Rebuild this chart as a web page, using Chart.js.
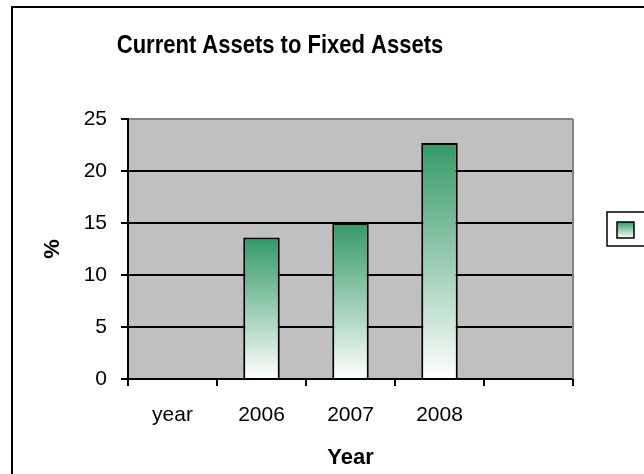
<!DOCTYPE html>
<html>
<head>
<meta charset="utf-8">
<script src="https://cdn.jsdelivr.net/npm/chart.js@4.4.1/dist/chart.umd.min.js"></script>
<style>
  html, body { margin: 0; padding: 0; background: #fff; }
  #wrap { width: 644px; height: 474px; position: relative; }
</style>
</head>
<body>
<div id="wrap"><canvas id="ratioChart"></canvas></div>
<script>
const categories = ['year', '2006', '2007', '2008', ''];
const ratioValues = [null, 13.6, 15.0, 22.7, null];
const yTicks = [0, 5, 10, 15, 20, 25];

const chartTitle = 'Current Assets to Fixed Assets';
const xTitle = 'Year';
const yTitle = '%';

const FONT = "'Liberation Sans', Arial, sans-serif";
const GREEN = 'rgb(51,153,102)';

// each bar fades from green at its top to white at the baseline
function barGradient(context) {
  const chart = context.chart;
  const { ctx, chartArea, scales } = chart;
  if (!chartArea) return GREEN;
  const v = context.raw;
  if (v == null) return GREEN;
  const top = scales.y.getPixelForValue(v);
  const base = scales.y.getPixelForValue(0);
  const g = ctx.createLinearGradient(0, top, 0, base);
  g.addColorStop(0, GREEN);
  g.addColorStop(1, '#ffffff');
  return g;
}

const frame = {
  id: 'frame',
  beforeDraw(chart) {
    const { ctx, chartArea: a } = chart;
    ctx.save();
    ctx.fillStyle = '#fff';
    ctx.fillRect(0, 0, chart.width, chart.height);
    ctx.fillStyle = '#c0c0c0';
    ctx.fillRect(a.left, a.top, a.right - a.left, a.bottom - a.top);
    ctx.restore();
  },
  afterDraw(chart) {
    const { ctx, chartArea: a } = chart;
    ctx.save();
    // outer chart border
    ctx.strokeStyle = '#000';
    ctx.lineWidth = 2;
    ctx.beginPath();
    ctx.moveTo(12, chart.height);
    ctx.lineTo(12, 7);
    ctx.lineTo(chart.width, 7);
    ctx.stroke();

    // plot area right edge
    ctx.strokeStyle = '#808080';
    ctx.lineWidth = 2;
    ctx.beginPath();
    ctx.moveTo(a.right, a.top);
    ctx.lineTo(a.right, a.bottom);
    ctx.stroke();

    // title, a little narrower than the plain bold face
    ctx.save();
    ctx.translate(280, 46);
    ctx.scale(0.88, 1);
    ctx.fillStyle = '#000';
    ctx.font = 'bold 25px ' + FONT;
    ctx.textAlign = 'center';
    ctx.textBaseline = 'middle';
    ctx.fillText(chartTitle, 0, 0);
    ctx.restore();

    // legend box with a single swatch
    ctx.strokeStyle = '#000';
    ctx.lineWidth = 1.5;
    ctx.strokeRect(607, 212, 60, 34);
    const g = ctx.createLinearGradient(0, 222, 0, 238);
    g.addColorStop(0, GREEN);
    g.addColorStop(1, '#ffffff');
    ctx.fillStyle = g;
    ctx.fillRect(617, 222, 17, 16);
    ctx.strokeRect(617, 222, 17, 16);
    ctx.restore();
  }
};

new Chart(document.getElementById('ratioChart'), {
  type: 'bar',
  data: {
    labels: categories,
    datasets: [{
      label: '',
      data: ratioValues,
      backgroundColor: barGradient,
      borderColor: '#000',
      borderWidth: 2,
      borderSkipped: 'start',
      categoryPercentage: 1,
      barPercentage: 0.41
    }]
  },
  options: {
    responsive: true,
    maintainAspectRatio: false,
    animation: false,
    events: [],
    layout: { padding: { top: 119, right: 71, left: 0, bottom: 0 } },
    plugins: {
      legend: { display: false },
      title: { display: false },
      tooltip: { enabled: false }
    },
    scales: {
      x: {
        offset: true,
        grid: {
          offset: true,
          drawOnChartArea: false,
          drawTicks: true,
          tickLength: 7,
          tickColor: '#000',
          lineWidth: 2
        },
        border: { color: '#000', width: 2 },
        ticks: {
          color: '#000',
          padding: 17,
          maxRotation: 0,
          font: { family: FONT, size: 21 }
        },
        title: {
          display: true,
          text: xTitle,
          color: '#000',
          font: { family: FONT, size: 22, weight: 'bold' },
          padding: { bottom: 3 }
        },
        afterFit(scale) { scale.height = 95; }
      },
      y: {
        min: 0,
        max: 25,
        afterBuildTicks(scale) { scale.ticks = yTicks.map(v => ({ value: v })); },
        grid: {
          color: ctx => ctx.tick && ctx.tick.value === 25 ? '#808080' : '#000',
          lineWidth: 2,
          tickLength: 7,
          tickColor: '#000'
        },
        border: { color: '#000', width: 2 },
        ticks: {
          color: '#000',
          padding: 14,
          font: { family: FONT, size: 21 }
        },
        title: {
          display: true,
          text: yTitle,
          color: '#000',
          font: { family: FONT, size: 22, weight: 'bold' },
          padding: { top: 40 }
        },
        afterFit(scale) { scale.width = 128; }
      }
    }
  },
  plugins: [frame]
});
</script>
</body>
</html>
